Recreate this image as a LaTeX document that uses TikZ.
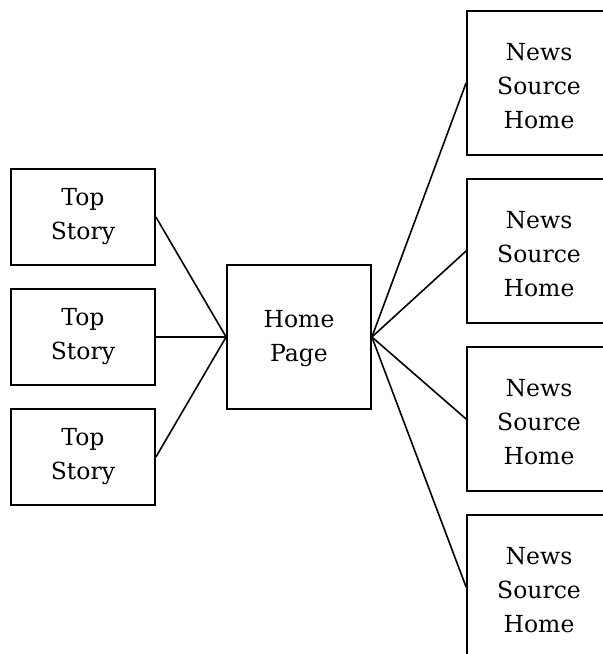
\documentclass[tikz,border=0pt]{standalone}
\usepackage{fontspec}
\setmainfont{DejaVu Serif}
\begin{document}
\begin{tikzpicture}[x=1pt,y=-1pt,
  box/.style={draw, line width=1.8pt, inner sep=0pt},
  txt/.style={inner sep=0pt, align=center, font=\fontsize{23.5}{34}\selectfont},
  ts/.style={box, minimum width=144pt, minimum height=96pt},
  sq/.style={box, minimum width=144pt, minimum height=144pt},
  link/.style={line width=1.6pt}]
\useasboundingbox (0,0) rectangle (603,654);
\clip (0,0) rectangle (603,654);
\node[ts] (t1) at (83,217) {};
\node[ts] (t2) at (83,337) {};
\node[ts] (t3) at (83,457) {};
\node[sq] (h) at (299,337) {};
\node[sq] (n1) at (539,83) {};
\node[sq] (n2) at (539,251) {};
\node[sq] (n3) at (539,419) {};
\node[sq] (n4) at (539,587) {};
\foreach \t in {t1,t2,t3} \node[txt] at (\t.center) {Top\\Story};
\node[txt] at ([yshift=-2pt]h.center) {Home\\Page};
\foreach \n in {n1,n2,n3,n4} \node[txt] at ([yshift=-3pt]\n.center) {News\\Source\\Home};
\foreach \t in {t1,t2,t3} \draw[link] (\t.east) -- (h.west);
\foreach \n in {n1,n2,n3,n4} \draw[link] (h.east) -- (\n.west);
\end{tikzpicture}
\end{document}
